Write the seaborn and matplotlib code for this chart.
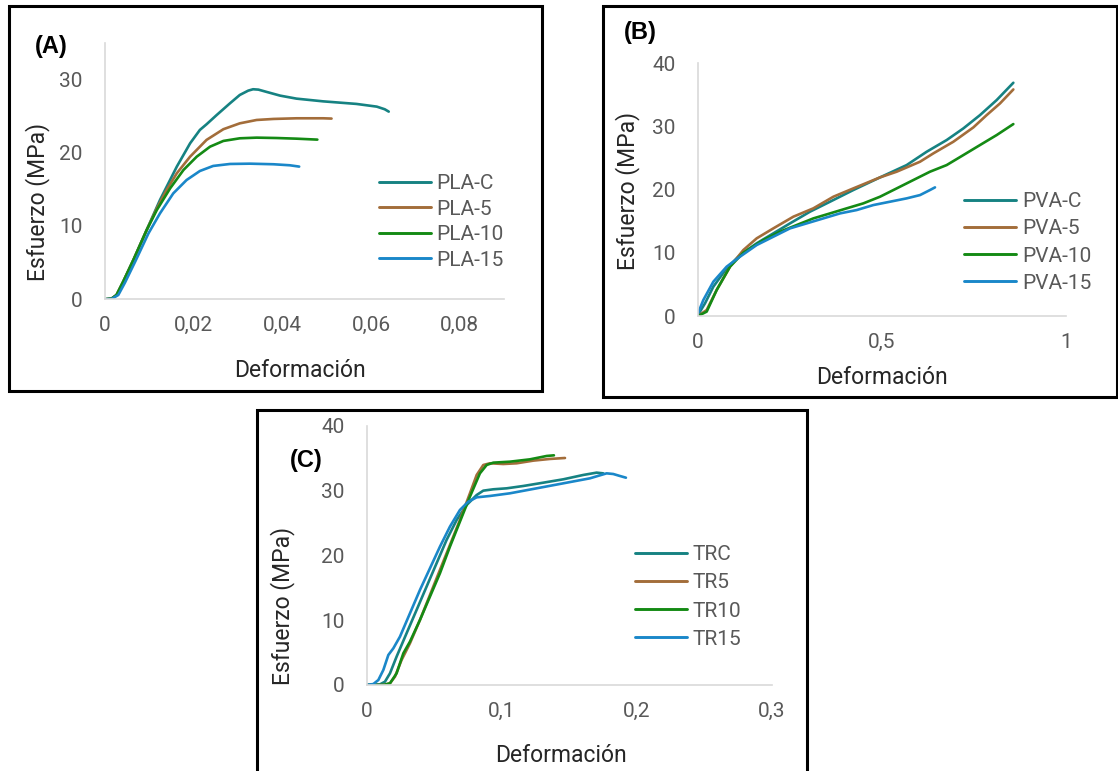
import matplotlib
matplotlib.use("Agg")
import matplotlib.pyplot as plt
import seaborn as sns
import pandas as pd
from matplotlib.patches import Rectangle

# ---------------- DATA ----------------
# Panel A: PLA
pla_names = ["PLA-C", "PLA-5", "PLA-10", "PLA-15"]
pla_c_x = [0, 0.0015, 0.0026, 0.0041, 0.0064, 0.0094, 0.0124, 0.0162, 0.0192, 0.0214, 0.0229, 0.0252,
           0.0282, 0.0304, 0.0323, 0.0334, 0.0346, 0.0365, 0.0395, 0.0432, 0.0492, 0.0567, 0.0613, 0.0631, 0.0640]
pla_c_y = [0, 0.1, 0.59, 2.4, 5.36, 9.45, 13.55, 18.1, 21.28, 23.1, 23.87, 25.14,
           26.74, 27.87, 28.46, 28.65, 28.6, 28.28, 27.78, 27.37, 27.0, 26.65, 26.28, 25.92, 25.6]
pla_5_x = [0, 0.0015, 0.0026, 0.0041, 0.0064, 0.0094, 0.0117, 0.0139, 0.0162, 0.0192, 0.0229, 0.0267,
           0.0304, 0.0342, 0.0380, 0.0432, 0.0492, 0.0511]
pla_5_y = [0, 0.1, 0.59, 2.4, 5.36, 9.45, 12.41, 14.91, 17.19, 19.46, 21.74, 23.2,
           24.0, 24.46, 24.6, 24.69, 24.69, 24.65]
pla_10_x = [0, 0.0015, 0.0026, 0.0041, 0.0064, 0.0094, 0.0117, 0.0147, 0.0177, 0.0207, 0.0237, 0.0267,
            0.0304, 0.0342, 0.0387, 0.0432, 0.0479]
pla_10_y = [0, 0.1, 0.59, 2.4, 5.36, 9.45, 12.19, 15.14, 17.64, 19.46, 20.82, 21.6,
            21.96, 22.05, 22.0, 21.91, 21.78]
pla_15_x = [0, 0.0015, 0.0030, 0.0045, 0.0068, 0.0098, 0.0124, 0.0154, 0.0184, 0.0214, 0.0244, 0.0282,
            0.0327, 0.0380, 0.0417, 0.0438]
pla_15_y = [0, 0.05, 0.59, 2.27, 5.13, 8.99, 11.72, 14.45, 16.27, 17.5, 18.19, 18.46,
            18.5, 18.42, 18.28, 18.1]

# Panel B: PVA
pva_names = ["PVA-C", "PVA-5", "PVA-10", "PVA-15"]
pva_c_x = [0, 0.019, 0.0417, 0.0779, 0.1141, 0.1594, 0.2047, 0.25, 0.3043, 0.3587, 0.4221, 0.4946,
           0.567, 0.6214, 0.6757, 0.721, 0.7663, 0.8116, 0.8569]
pva_c_y = [0.16, 2.0, 4.64, 7.54, 9.65, 11.5, 13.08, 14.66, 16.51, 18.09, 19.94, 21.94,
           23.89, 26.0, 27.85, 29.69, 31.8, 34.18, 36.92]
pva_5_x = [0, 0.0236, 0.0507, 0.087, 0.1232, 0.1594, 0.2047, 0.2591, 0.3134, 0.3678, 0.4221, 0.4946,
           0.5399, 0.6033, 0.6395, 0.6938, 0.7482, 0.7844, 0.8207, 0.8569]
pva_5_y = [0, 0.95, 4.11, 7.81, 10.44, 12.29, 13.87, 15.72, 17.04, 18.88, 20.2, 21.94,
           22.84, 24.42, 25.74, 27.58, 29.85, 31.8, 33.65, 35.86]
pva_10_x = [0, 0.0236, 0.0507, 0.087, 0.1232, 0.1775, 0.2228, 0.2681, 0.3134, 0.3587, 0.404, 0.4493,
            0.4946, 0.5399, 0.5851, 0.6304, 0.6757, 0.721, 0.7663, 0.8116, 0.8569]
pva_10_y = [0, 0.69, 4.11, 7.81, 10.02, 12.03, 13.34, 14.4, 15.45, 16.24, 17.04, 17.83,
            18.88, 20.2, 21.52, 22.84, 23.89, 25.47, 27.06, 28.64, 30.38]
pva_15_x = [0, 0.0145, 0.0417, 0.0779, 0.1141, 0.1594, 0.2047, 0.25, 0.2953, 0.3406, 0.3859, 0.4312,
            0.4764, 0.5217, 0.567, 0.6033, 0.6304, 0.644]
pva_15_y = [0.42, 2.53, 5.43, 7.81, 9.39, 11.23, 12.55, 13.87, 14.66, 15.45, 16.24, 16.77,
            17.56, 18.09, 18.62, 19.14, 19.94, 20.36]

# Panel C: TR
tr_names = ["TRC", "TR5", "TR10", "TR15"]
trc_x = [0, 0.0099, 0.0136, 0.0173, 0.0222, 0.0296, 0.037, 0.0444, 0.0518, 0.0592, 0.0667, 0.0741,
         0.0815, 0.0864, 0.0938, 0.1037, 0.116, 0.1308, 0.1456, 0.1604, 0.1703, 0.1752]
trc_y = [0, 0.1, 0.51, 1.8, 4.37, 7.98, 11.57, 15.17, 18.77, 22.37, 25.46, 27.77,
         29.31, 29.98, 30.19, 30.34, 30.7, 31.21, 31.73, 32.4, 32.76, 32.65]
tr5_x = [0, 0.0124, 0.0173, 0.021, 0.0259, 0.0321, 0.0395, 0.0469, 0.0543, 0.0617, 0.0691, 0.0765,
         0.0815, 0.0864, 0.0913, 0.1012, 0.1111, 0.1234, 0.1357, 0.1469]
tr5_y = [0, 0, 0.26, 1.29, 3.86, 6.43, 10.03, 13.89, 17.75, 21.6, 25.46, 29.57,
         32.4, 33.94, 34.2, 34.09, 34.2, 34.61, 34.87, 35.02]
tr10_x = [0, 0.0124, 0.0173, 0.0222, 0.0272, 0.0321, 0.0395, 0.0469, 0.0543, 0.0617, 0.0691, 0.0765,
          0.0839, 0.0889, 0.0938, 0.1061, 0.1209, 0.1333, 0.1387]
tr10_y = [0, 0, 0.26, 1.8, 4.89, 6.69, 10.03, 13.63, 17.23, 21.34, 25.2, 29.05,
          32.65, 33.94, 34.3, 34.45, 34.81, 35.33, 35.43]
tr15_x = [0, 0.005, 0.0087, 0.0124, 0.0161, 0.0198, 0.0247, 0.0321, 0.0395, 0.0469, 0.0543, 0.0617,
          0.0691, 0.0753, 0.0815, 0.0913, 0.1061, 0.1259, 0.1456, 0.1653, 0.1777, 0.1826, 0.1876, 0.192]
tr15_y = [0, 0.15, 0.77, 2.32, 4.63, 5.66, 7.46, 11.06, 14.66, 18.0, 21.34, 24.43,
          27.0, 28.28, 28.95, 29.16, 29.57, 30.34, 31.11, 31.88, 32.65, 32.55, 32.24, 31.98]

series_colors = ["#168282", "#a36d3a", "#148a14", "#1a87c9"]

a_xticks = [0, 0.02, 0.04, 0.06, 0.08]
a_xticklabels = ["0", "0,02", "0,04", "0,06", "0,08"]
a_yticks = [0, 10, 20, 30]
b_xticks = [0, 0.5, 1]
b_xticklabels = ["0", "0,5", "1"]
b_yticks = [0, 10, 20, 30, 40]
c_xticks = [0, 0.1, 0.2, 0.3]
c_xticklabels = ["0", "0,1", "0,2", "0,3"]
c_yticks = [0, 10, 20, 30, 40]

# ---------------- STYLE ----------------
W, H, DPI = 1118, 771, 100
sns.set_theme(style="white")
plt.rcParams["font.family"] = ["Roboto", "DejaVu Sans"]

fig = plt.figure(figsize=(W / DPI, H / DPI), dpi=DPI)
fig.patch.set_facecolor("white")


def rect_px(x0, y0, x1, y1):
    return [x0 / W, 1 - y1 / H, (x1 - x0) / W, (y1 - y0) / H]


def panel(axpx, data, names, xlim, ylim, xticks, xtl, yticks, leg_xy, leg_ls,
          xlab_xy, ylab_xy, tag, tag_xy):
    ax = fig.add_axes(rect_px(*axpx))
    frames = []
    for (xs, ys), nm in zip(data, names):
        frames.append(pd.DataFrame({"x": xs, "y": ys, "serie": nm}))
    df = pd.concat(frames, ignore_index=True)
    sns.lineplot(data=df, x="x", y="y", hue="serie", hue_order=names,
                 palette=series_colors, sort=False, estimator=None,
                 linewidth=1.9, ax=ax, legend=False)
    ax.set_xlim(*xlim)
    ax.set_ylim(*ylim)
    ax.set_xticks(xticks)
    ax.set_xticklabels(xtl)
    ax.set_yticks(yticks)
    ax.set_yticklabels([str(v) for v in yticks])
    ax.tick_params(axis="both", length=0, labelsize=15, colors="#595959")
    ax.tick_params(axis="y", pad=16)
    ax.tick_params(axis="x", pad=12)
    for s in ["top", "right"]:
        ax.spines[s].set_visible(False)
    for s in ["left", "bottom"]:
        ax.spines[s].set_color("#d9d9d9")
        ax.spines[s].set_linewidth(1.2)
    ax.set_facecolor("none")
    ax.grid(False)
    ax.set_xlabel("Deformación", fontsize=16.5, color="#262626")
    ax.set_ylabel("Esfuerzo (MPa)", fontsize=16.5, color="#262626")
    ax.xaxis.set_label_coords(*xlab_xy)
    ax.xaxis.label.set_va("center")
    ax.yaxis.set_label_coords(*ylab_xy)
    ax.yaxis.label.set_va("center")
    handles = ax.get_lines()[:4]
    leg = ax.legend(handles, names, loc="center left",
                    bbox_to_anchor=(leg_xy[0] / W, 1 - leg_xy[1] / H),
                    bbox_transform=fig.transFigure, frameon=False,
                    borderpad=0, borderaxespad=0, handlelength=2.5,
                    handletextpad=0.28, labelspacing=leg_ls, fontsize=15)
    for t in leg.get_texts():
        t.set_color("#595959")
    for l in leg.get_lines():
        l.set_linewidth(2.1)
    fig.text(tag_xy[0] / W, 1 - tag_xy[1] / H, tag, fontsize=17, fontweight="bold",
             family=["Liberation Sans", "DejaVu Sans"], color="black",
             ha="center", va="center")
    return ax


def axfrac(px, py, axpx):
    x0, y0, x1, y1 = axpx
    return ((px - x0) / (x1 - x0), (y1 - py) / (y1 - y0))


# Panel A
a_px = (105, 42.7, 504, 299.3)
panel(a_px, [(pla_c_x, pla_c_y), (pla_5_x, pla_5_y), (pla_10_x, pla_10_y), (pla_15_x, pla_15_y)],
      pla_names, (0, 0.09), (0, 35), a_xticks, a_xticklabels, a_yticks,
      (378.5, 222), 0.31, axfrac(300, 371, a_px), axfrac(37.8, 201.7, a_px), "(A)", (51, 47))

# Panel B
b_px = (698, 63.3, 1066, 316)
panel(b_px, [(pva_c_x, pva_c_y), (pva_5_x, pva_5_y), (pva_10_x, pva_10_y), (pva_15_x, pva_15_y)],
      pva_names, (0, 1), (0, 40), b_xticks, b_xticklabels, b_yticks,
      (964, 242.5), 0.39, axfrac(881.5, 377, b_px), axfrac(627.4, 190.8, b_px), "(B)", (640, 33))

# Panel C
c_px = (366.6, 425.7, 771.8, 685)
panel(c_px, [(trc_x, trc_y), (tr5_x, tr5_y), (tr10_x, tr10_y), (tr15_x, tr15_y)],
      tr_names, (0, 0.3), (0, 40), c_xticks, c_xticklabels, c_yticks,
      (635, 597), 0.44, axfrac(561, 755, c_px), axfrac(282.4, 605.5, c_px), "(C)", (306.6, 461))

# Panel frames
for (x0, y0, x1, y1) in [(9, 6, 542, 391), (603, 6, 1117, 397), (257, 410, 807, 800)]:
    fig.patches.append(Rectangle((x0 / W, 1 - y1 / H), (x1 - x0) / W, (y1 - y0) / H,
                                 transform=fig.transFigure, fill=False,
                                 edgecolor="black", linewidth=2.2, zorder=10))

fig.savefig("out.png", dpi=DPI)
